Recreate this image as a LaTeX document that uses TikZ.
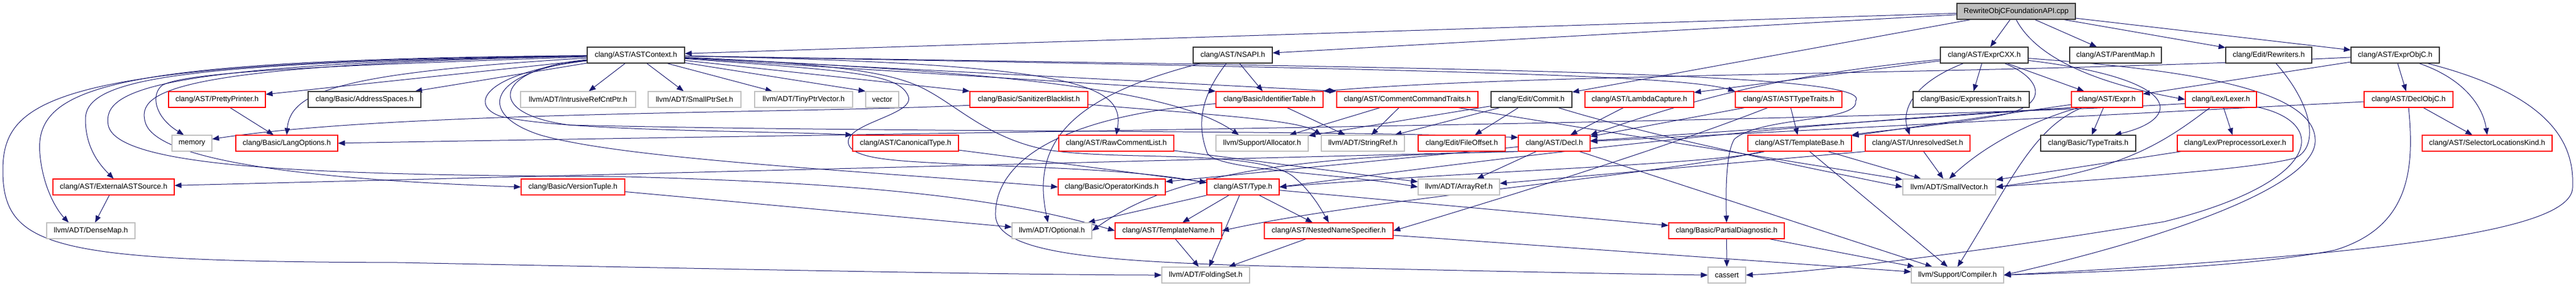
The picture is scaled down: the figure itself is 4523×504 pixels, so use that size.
\documentclass[tikz,border=0pt]{standalone}
\usepackage{fontspec}
\setmainfont{Liberation Sans}
\usetikzlibrary{arrows.meta,calc}
\definecolor{edgec}{HTML}{191970}
\definecolor{redb}{HTML}{FF0000}
\definecolor{grayb}{HTML}{BFBFBF}
\definecolor{rootf}{HTML}{BFBFBF}
\pgfdeclarelayer{edges}
\pgfsetlayers{edges,main}
\begin{document}
\begin{tikzpicture}[x=0.75pt,y=-0.75pt,
  nbox/.style={draw, rectangle, fill=white, minimum height=21pt, inner sep=0pt,
    font=\fontsize{9.75}{11}\selectfont, line width=0.85pt},
  rb/.style={nbox, draw=redb},
  kb/.style={nbox, draw=black!80},
  gb/.style={nbox, draw=grayb},
  rt/.style={nbox, draw=black!80, fill=rootf},
  bw/.style={minimum width=#1*0.75pt},
  lnk/.style={draw=edgec, line width=0.75pt, -{Triangle[length=9pt,width=7pt]}}
]
\useasboundingbox (0,0) rectangle (4523,504);
% row 0
\node[rt,bw=208] (root) at (3540,20) {RewriteObjCFoundationAPI.cpp};
% row 1
\node[kb,bw=171] (ast) at (1116.5,97) {clang/AST/ASTContext.h};
\node[kb,bw=139] (nsapi) at (2164.5,97) {clang/AST/NSAPI.h};
\node[kb,bw=154] (cxx) at (3484,97) {clang/AST/ExprCXX.h};
\node[kb,bw=161] (pmap) at (3714.5,97) {clang/AST/ParentMap.h};
\node[kb,bw=151] (rew) at (3983.5,97) {clang/Edit/Rewriters.h};
\node[kb,bw=155] (eobjc) at (4205.5,97) {clang/AST/ExprObjC.h};
% row 2
\node[rb,bw=170] (pp) at (381,175) {clang/AST/PrettyPrinter.h};
\node[kb,bw=198] (asp) at (640,175) {clang/Basic/AddressSpaces.h};
\node[gb,bw=202] (irc) at (1015,175) {llvm/ADT/IntrusiveRefCntPtr.h};
\node[gb,bw=163] (sps) at (1219.5,175) {llvm/ADT/SmallPtrSet.h};
\node[gb,bw=172] (tpv) at (1411,175) {llvm/ADT/TinyPtrVector.h};
\node[gb,bw=58] (vec) at (1549,175) {vector};
\node[rb,bw=207] (sbl) at (1806.5,175) {clang/Basic/SanitizerBlacklist.h};
\node[rb,bw=188] (idt) at (2229,175) {clang/Basic/IdentifierTable.h};
\node[rb,bw=248] (cct) at (2471,175) {clang/AST/CommentCommandTraits.h};
\node[kb,bw=142] (commit) at (2689,175) {clang/Edit/Commit.h};
\node[rb,bw=191] (lcap) at (2878.5,175) {clang/AST/LambdaCapture.h};
\node[rb,bw=187] (att) at (3140.5,175) {clang/AST/ASTTypeTraits.h};
\node[kb,bw=204] (etr) at (3461,175) {clang/Basic/ExpressionTraits.h};
\node[rb,bw=125] (expr) at (3699.5,175) {clang/AST/Expr.h};
\node[rb,bw=125] (lexer) at (3899.5,175) {clang/Lex/Lexer.h};
\node[rb,bw=156] (dobjc) at (4229,175) {clang/AST/DeclObjC.h};
% row 3
\node[gb,bw=70] (mem) at (337,252) {memory};
\node[rb,bw=179] (lang) at (503.5,252) {clang/Basic/LangOptions.h};
\node[rb,bw=186] (canon) at (1590,252) {clang/AST/CanonicalType.h};
\node[rb,bw=202] (rcl) at (1960,252) {clang/AST/RawCommentList.h};
\node[gb,bw=162] (alloc) at (2216,252) {llvm/Support/Allocator.h};
\node[gb,bw=146] (sref) at (2393,252) {llvm/ADT/StringRef.h};
\node[rb,bw=153] (foff) at (2566.5,252) {clang/Edit/FileOffset.h};
\node[rb,bw=126] (decl) at (2729,252) {clang/AST/Decl.h};
\node[rb,bw=182] (tbase) at (3160,252) {clang/AST/TemplateBase.h};
\node[rb,bw=184] (uset) at (3367,252) {clang/AST/UnresolvedSet.h};
\node[kb,bw=167] (ttr) at (3666.5,252) {clang/Basic/TypeTraits.h};
\node[rb,bw=203] (pplex) at (3924.5,252) {clang/Lex/PreprocessorLexer.h};
\node[rb,bw=228] (slk) at (4367,252) {clang/AST/SelectorLocationsKind.h};
% row 4
\node[rb,bw=213] (ext) at (199.5,329) {clang/AST/ExternalASTSource.h};
\node[rb,bw=182] (vtup) at (1006,329) {clang/Basic/VersionTuple.h};
\node[rb,bw=188] (opk) at (1952,329) {clang/Basic/OperatorKinds.h};
\node[rb,bw=127] (type) at (2182.5,329) {clang/AST/Type.h};
\node[gb,bw=143] (aref) at (2561.5,329) {llvm/ADT/ArrayRef.h};
\node[gb,bw=163] (svec) at (3422.5,329) {llvm/ADT/SmallVector.h};
% row 5
\node[gb,bw=155] (dmap) at (159.5,406) {llvm/ADT/DenseMap.h};
\node[gb,bw=140] (opt) at (1847,406) {llvm/ADT/Optional.h};
\node[rb,bw=187] (tname) at (2051.5,406) {clang/AST/TemplateName.h};
\node[rb,bw=226] (nns) at (2333,406) {clang/AST/NestedNameSpecifier.h};
\node[rb,bw=203] (pdiag) at (3031.5,406) {clang/Basic/PartialDiagnostic.h};
% row 6
\node[gb,bw=154] (fset) at (2117,484) {llvm/ADT/FoldingSet.h};
\node[gb,bw=66] (cass) at (3032,484) {cassert};
\node[gb,bw=162] (comp) at (3437,484) {llvm/Support/Compiler.h};

\begin{pgfonlayer}{edges}
\fill[white] (0,0) rectangle (4523,504);
% root
\draw[lnk] (root) -- (ast);
\draw[lnk] (root) -- (nsapi);
\draw[lnk] (root) -- (commit);
\draw[lnk] (root) -- (cxx);
\draw[lnk] (root) -- (pmap);
\draw[lnk] (root) -- (rew);
\draw[lnk] (root) -- (eobjc);
\draw[lnk] (root.south) .. controls (3580,110) and (3700,150) .. (lexer.west);
% ExprCXX
\draw[lnk] (cxx) -- (expr);
\draw[lnk] (cxx) -- (etr);
\draw[lnk] (cxx) .. controls (3350,150) and (3340,200) .. ($(uset.north)!0.15!(uset.north west)$);
\draw[lnk] (cxx) .. controls (3590,140) and (3600,190) .. (3500,205) .. controls (3400,222) and (3300,230) .. (tbase.north east);
\draw[lnk] (cxx) .. controls (3840,140) and (3830,210) .. ($(ttr.north)!0.55!(ttr.north east)$);
\draw[lnk] (cxx) -- (lcap);
\draw[lnk] (cxx) .. controls (3150,130) and (3000,165) .. (decl.north east);
\draw[lnk] (cxx) .. controls (3800,120) and (4070,150) .. (4065,250) .. controls (4060,330) and (3800,420) .. (comp.east);
% ExprObjC
\draw[lnk] (eobjc) -- (dobjc);
\draw[lnk] (eobjc) .. controls (4330,140) and (4360,190) .. (slk.north);
\draw[lnk] (eobjc) .. controls (4490,170) and (4520,260) .. (4517,330) .. controls (4515,400) and (4250,445) .. (comp.east);
\draw[lnk] (eobjc) -- (expr);
\draw[lnk] (eobjc) .. controls (3500,132) and (2700,128) .. (idt.north east);
% DeclObjC
\draw[lnk] (dobjc) -- (slk);
\draw[lnk] (dobjc.south) .. controls (4240,300) and (4230,400) .. (4100,440) .. controls (3950,470) and (3700,478) .. (comp.east);
\draw[lnk] (dobjc) -- (decl);
% Lexer
\draw[lnk] (lexer) -- (pplex);
\draw[lnk] (lexer) .. controls (3800,250) and (3730,300) .. (svec.east);
\draw[lnk] (lexer) .. controls (4090,215) and (4080,320) .. (3800,390) .. controls (3500,440) and (3200,478) .. (cass.east);
\draw[lnk] ($(lexer.west)!0.5!(lexer.south west)$) .. controls (3300,215) and (1500,235) .. (lang.east);
\draw[lnk] (pplex) -- (svec);
% Rewriters
\draw[lnk] (rew) .. controls (4065,190) and (4070,260) .. (4030,278) .. controls (3950,300) and (3650,318) .. (svec.east);
% NSAPI
\draw[lnk] (nsapi) -- (idt);
\draw[lnk] (nsapi) .. controls (1880,170) and (1810,250) .. ($(opt.north)!0.1!(opt.north west)$);
\draw[lnk] (nsapi) .. controls (2100,180) and (2105,230) .. (2120,270) .. controls (2140,300) and (2350,305) .. (aref.west);
% ASTContext
\draw[lnk] (ast) -- (irc);
\draw[lnk] (ast) -- (sps);
\draw[lnk] (ast) -- (tpv);
\draw[lnk] (ast) -- (vec.north west);
\draw[lnk] (ast) -- (sbl.north west);
\draw[lnk] (ast) -- (idt.north west);
\draw[lnk] (ast) -- (cct.north west);
\draw[lnk] (ast) .. controls (1700,125) and (2050,150) .. ($(alloc.north)!0.5!(alloc.north west)$);
\draw[lnk] (ast) .. controls (1900,112) and (1975,150) .. (rcl.north);
\draw[lnk] (ast) .. controls (2500,122) and (2950,132) .. (att.north west);
\draw[lnk] (ast) .. controls (2500,120) and (3300,125) .. (3258,178) .. controls (3265,215) and (3090,205) .. (3045,245) .. controls (3030,270) and (3030,340) .. (pdiag.north);
\draw[lnk] (ast) .. controls (1450,112) and (1560,125) .. (1620,155) .. controls (1680,185) and (1730,240) .. (1830,262) .. controls (1950,285) and (2200,260) .. (2270,310) .. controls (2300,335) and (2315,360) .. (nns.north);
\draw[lnk] (ast) .. controls (1500,125) and (1580,130) .. (1595,170) .. controls (1605,200) and (1500,215) .. (1490,245) .. controls (1480,285) and (1600,283) .. (1700,290) .. controls (1850,295) and (2000,300) .. ($(type.west)!0.5!(type.north west)$);
\draw[lnk] (ast) .. controls (860,125) and (830,200) .. (950,238) .. controls (1100,280) and (1500,300) .. (opk.west);
\draw[lnk] (ast) .. controls (850,128) and (820,185) .. (880,205) .. controls (1000,232) and (1350,230) .. (canon.north west);
\draw[lnk] (ast) .. controls (870,120) and (845,200) .. (1000,220) .. controls (1600,234) and (2300,228) .. ($(decl.north west)!0.15!(decl.south west)$);
\draw[lnk] (ast) -- (pp);
\draw[lnk] (ast) -- (asp);
\draw[lnk] (ast) .. controls (600,128) and (510,160) .. (lang.north);
\draw[lnk] (ast) .. controls (600,115) and (330,125) .. (285,150) .. controls (265,165) and (270,205) .. ($(mem.north west)!0.3!(mem.north east)$);
\draw[lnk] (ast) .. controls (300,110) and (150,140) .. (150,210) .. controls (150,260) and (175,290) .. (ext.north);
\draw[lnk] (ast) .. controls (200,105) and (60,150) .. (70,270) .. controls (75,330) and (100,370) .. ($(dmap.north)!0.5!(dmap.north west)$);
\draw[lnk] (ast) .. controls (100,108) and (5,170) .. (5,300) .. controls (5,440) and (100,460) .. (700,462) .. controls (1300,474) and (1800,484) .. (fset.west);
\draw[lnk] (ast) .. controls (300,115) and (240,160) .. (255,215) .. controls (275,290) and (600,318) .. (vtup.west);
\draw[lnk] (ast) .. controls (260,112) and (180,160) .. (190,220) .. controls (205,300) and (600,308) .. (1100,311) .. controls (1500,322) and (1750,345) .. (tname.west);
% middle
\draw[lnk] (pp) -- (lang);
\draw[lnk] (ext) -- (dmap);
\draw[lnk] (vtup) -- (opt);
\draw[lnk] (canon) -- (type);
\draw[lnk] ($(sbl.west)!0.7!(sbl.south west)$) .. controls (1400,200) and (700,195) .. ($(mem.east)!0.5!(mem.north east)$);
\draw[lnk] (sbl) .. controls (2100,200) and (2280,210) .. (sref.north west);
\draw[lnk] (rcl) -- (aref);
\draw[lnk] (idt) -- (sref);
\draw[lnk] (idt) .. controls (1850,205) and (1745,290) .. (1748,380) .. controls (1752,450) and (1950,462) .. (2300,470) .. controls (2650,478) and (2900,483) .. (cass.west);
\draw[lnk] (cct) -- (alloc);
\draw[lnk] (cct) -- (sref);
\draw[lnk] (cct) -- (svec);
\draw[lnk] (commit) -- (foff);
\draw[lnk] (commit) -- (sref);
\draw[lnk] (commit) -- (alloc);
\draw[lnk] (commit) .. controls (2900,240) and (3150,290) .. (svec.west);
\draw[lnk] (lcap) -- (decl);
\draw[lnk] (att) -- (tbase);
\draw[lnk] (att) -- (decl);
\draw[lnk] (att) .. controls (2950,250) and (2700,330) .. (nns.east);
\draw[lnk] (expr) -- (ttr);
\draw[lnk] (expr) .. controls (3560,215) and (3480,260) .. (svec.north);
\draw[lnk] ($(expr.south west)!0.15!(expr.south east)$) .. controls (3570,225) and (3530,320) .. (comp.north);
\draw[lnk] (expr) -- (tbase);
\draw[lnk] (expr.south west) -- (decl);
\draw[lnk] (expr.south west) .. controls (3100,220) and (2700,270) .. (type.east);
\draw[lnk] (tbase) -- (svec);
\draw[lnk] (tbase) -- (comp);
\draw[lnk] (tbase) .. controls (3000,290) and (2600,300) .. (type.east);
\draw[lnk] (tbase) .. controls (2900,310) and (2400,350) .. (tname.east);
\draw[lnk] (uset) -- (svec);
\draw[lnk] (uset.south west) -- (aref);
\draw[lnk] (decl) -- (aref);
\draw[lnk] (decl.south west) -- (ext);
\draw[lnk] (decl.south west) .. controls (2250,275) and (2050,310) .. (opt.east);
\draw[lnk] (decl) -- (comp);
\draw[lnk] (decl) -- (opk);
\draw[lnk] (type) -- (tname);
\draw[lnk] (type) -- (fset);
\draw[lnk] (type) -- (opt);
\draw[lnk] (type) -- (nns);
\draw[lnk] (type) -- (pdiag);
\draw[lnk] (tname) -- (fset);
\draw[lnk] (nns) -- (fset);
\draw[lnk] (nns) -- (comp);
\draw[lnk] (pdiag) -- (cass);
\draw[lnk] (pdiag) -- (comp);
\end{pgfonlayer}
\end{tikzpicture}
\end{document}
